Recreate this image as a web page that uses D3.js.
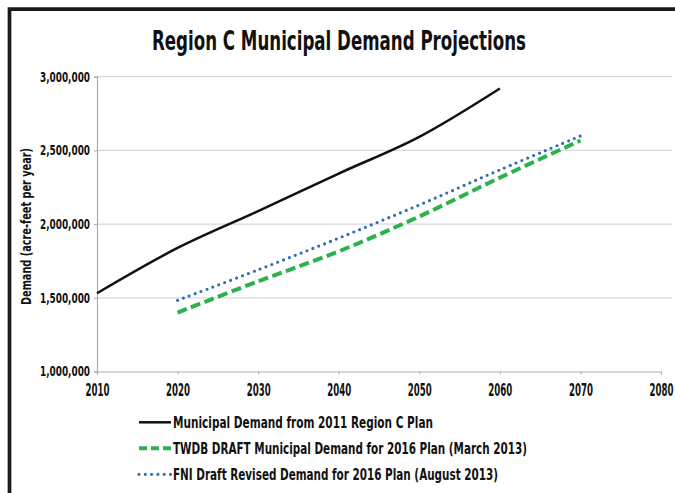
<!DOCTYPE html>
<html>
<head>
<meta charset="utf-8">
<script src="https://cdn.jsdelivr.net/npm/d3@7"></script>
<style>
  body { margin: 0; background: #fff; overflow: hidden; }
  svg { display: block; }
  text { font-family: "DejaVu Sans Condensed", "Liberation Sans Narrow", sans-serif; font-weight: bold; fill: #111; }
</style>
</head>
<body>
<div id="chart-area"></div>
<script>
// data
var years2011 = [2010, 2020, 2030, 2040, 2050, 2060];
var region2011 = [1531000, 1838000, 2088000, 2343000, 2592000, 2920000];

var years2016 = [2020, 2030, 2040, 2050, 2060, 2070];
var twdbDraft = [1400000, 1612000, 1815000, 2052000, 2315000, 2567000];
var fniRevised = [1483000, 1690000, 1905000, 2130000, 2368000, 2598000];

var yTicks = [1000000, 1500000, 2000000, 2500000, 3000000];
var xTicks = [2010, 2020, 2030, 2040, 2050, 2060, 2070, 2080];

var seriesNames = [
    "Municipal Demand from 2011 Region C Plan",
    "TWDB DRAFT Municipal Demand for 2016 Plan (March 2013)",
    "FNI Draft Revised Demand for 2016 Plan (August 2013)"
];

var width = 675, height = 493;

var svg = d3.select("#chart-area")
    .append("svg")
        .attr("width", width)
        .attr("height", height);

svg.append("rect").attr("width", width).attr("height", height).attr("fill", "#fff");

// frame (left + top)
svg.append("path")
    .attr("d", "M9.5,493 L9.5,9.2 L675,9.2")
    .attr("fill", "none")
    .attr("stroke", "#1a1a1a")
    .attr("stroke-width", 3.7);

var x = d3.scaleLinear().domain([2010, 2080]).range([97, 661]);
var y = d3.scaleLinear().domain([1000000, 3000000]).range([371.5, 76.7]);

// title
svg.append("text")
    .attr("x", 339).attr("y", 49.5)
    .attr("text-anchor", "middle")
    .attr("font-size", 26)
    .attr("textLength", 374)
    .attr("lengthAdjust", "spacingAndGlyphs")
    .text("Region C Municipal Demand Projections");

// gridlines
svg.append("g").selectAll("line")
    .data(yTicks.slice(1))
    .enter().append("line")
        .attr("x1", x(2010)).attr("x2", 672)
        .attr("y1", function(d){ return y(d); })
        .attr("y2", function(d){ return y(d); })
        .attr("stroke", "#d6d9de")
        .attr("stroke-width", 1.2);

// axes
var yAxis = svg.append("g")
    .attr("transform", "translate(" + x(2010) + ",0)")
    .call(d3.axisLeft(y).tickValues(yTicks).tickSize(3).tickPadding(4).tickFormat(d3.format(",")));

var xAxis = svg.append("g")
    .attr("transform", "translate(0," + y(1000000) + ")")
    .call(d3.axisBottom(x).tickValues(xTicks).tickSize(3).tickPadding(9).tickFormat(d3.format("d")));

[yAxis, xAxis].forEach(function(a){
    a.select(".domain").attr("stroke", "#a9adb2").attr("stroke-width", 1.2);
    a.selectAll(".tick line").attr("stroke", "#a9adb2");
    a.selectAll("text").attr("font-family", null).style("fill", "#111")
        .attr("lengthAdjust", "spacingAndGlyphs");
});
yAxis.selectAll("text").attr("font-size", 13.5).attr("textLength", 50);
xAxis.selectAll("text").attr("font-size", 17).attr("textLength", 24);

// y label
svg.append("text")
    .attr("transform", "translate(31,226.5) rotate(-90)")
    .attr("text-anchor", "middle")
    .attr("font-size", 14)
    .attr("textLength", 157)
    .attr("lengthAdjust", "spacingAndGlyphs")
    .text("Demand  (acre-feet per year)");

// lines
var line = d3.line()
    .x(function(d){ return x(d[0]); })
    .y(function(d){ return y(d[1]); })
    .curve(d3.curveCatmullRom);

var series = [
    { pts: d3.zip(years2011, region2011), color: "#111", w: 2.5, dash: null, cap: "butt" },
    { pts: d3.zip(years2016, twdbDraft), color: "#2bb24c", w: 4, dash: "10,4.5", cap: "butt" },
    { pts: d3.zip(years2016, fniRevised), color: "#2f6eb5", w: 3.2, dash: "0,6.3", cap: "round" }
];

svg.append("g").selectAll("path")
    .data(series)
    .enter().append("path")
        .attr("d", function(d){ return line(d.pts); })
        .attr("fill", "none")
        .attr("stroke", function(d){ return d.color; })
        .attr("stroke-width", function(d){ return d.w; })
        .attr("stroke-dasharray", function(d){ return d.dash; })
        .attr("stroke-linecap", function(d){ return d.cap; });

// legend
var legendLengths = [260, 354, 325];
var legend = svg.append("g").selectAll("g")
    .data(series)
    .enter().append("g")
        .attr("transform", function(d, i){ return "translate(139," + (422.3 + i * 26) + ")"; });

legend.append("line")
    .attr("x1", 0).attr("x2", 32)
    .attr("stroke", function(d){ return d.color; })
    .attr("stroke-width", function(d){ return d.w; })
    .attr("stroke-dasharray", function(d, i){ return i == 1 ? "8,4" : d.dash; })
    .attr("stroke-linecap", function(d){ return d.cap; });

legend.append("text")
    .attr("x", 34).attr("y", 5.5)
    .attr("font-size", 16)
    .attr("textLength", function(d, i){ return legendLengths[i]; })
    .attr("lengthAdjust", "spacingAndGlyphs")
    .text(function(d, i){ return seriesNames[i]; });
</script>
</body>
</html>
